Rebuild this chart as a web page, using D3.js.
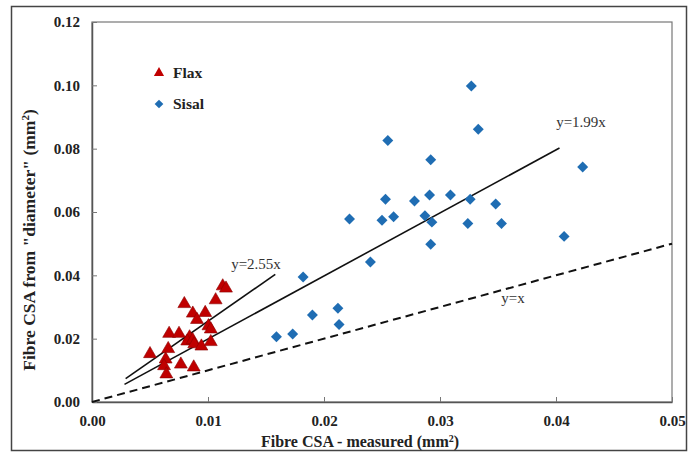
<!DOCTYPE html>
<html><head><meta charset="utf-8">
<script src="https://cdn.jsdelivr.net/npm/d3@7"></script>
<style>body{margin:0;background:#fff}svg{display:block}</style>
</head><body>
<script>
const xTicks = [0, 0.01, 0.02, 0.03, 0.04, 0.05];
const yTicks = [0, 0.02, 0.04, 0.06, 0.08, 0.10, 0.12];
const flaxX = [0.01127,0.01155,0.01066,0.00796,0.00869,0.00976,0.00905,0.01004,0.01024,0.00665,0.00750,0.00841,0.00821,0.00868,0.00881,0.00943,0.01024,0.00500,0.00657,0.00635,0.00766,0.00877,0.00621,0.00641];
const flaxY = [0.0369,0.0362,0.0325,0.0313,0.0283,0.0285,0.0263,0.0243,0.0233,0.0219,0.0219,0.0208,0.0195,0.0199,0.0186,0.0179,0.0193,0.0155,0.0171,0.0138,0.0122,0.0113,0.0117,0.0091];
const sisalX = [0.0327,0.0333,0.0255,0.0292,0.0423,0.0253,0.0278,0.0291,0.0309,0.0326,0.0348,0.0222,0.0250,0.0260,0.0287,0.0293,0.0324,0.0353,0.0407,0.0292,0.0240,0.0182,0.0190,0.0212,0.0213,0.0159,0.0173];
const sisalY = [0.0998,0.0861,0.0826,0.0765,0.0742,0.0640,0.0635,0.0654,0.0654,0.0640,0.0625,0.0578,0.0574,0.0585,0.0588,0.0568,0.0564,0.0564,0.0523,0.0498,0.0442,0.0395,0.0275,0.0296,0.0245,0.0206,0.0215];
const fitNames = ["y=2.55x", "y=1.99x", "y=x"];
const fitSlopes = [2.55, 1.99, 1];
const fitFrom = [0.0029, 0.0028, 0];
const fitTo = [0.0158, 0.0403, 0.05];
const legendNames = ["Flax", "Sisal"];

const W = 696, H = 457;
const M = {l: 92, t: 22, r: 672, b: 402};
const svg = d3.select("body").append("svg").attr("width", W).attr("height", H);
const x = d3.scaleLinear().domain([0, 0.05]).range([M.l, M.r]);
const y = d3.scaleLinear().domain([0, 0.12]).range([M.b, M.t]);
const serif = "'Liberation Serif','DejaVu Serif',serif";

// outer frame
svg.append("rect").attr("x", 11.5).attr("y", 6.5).attr("width", 675).attr("height", 444)
  .attr("fill", "none").attr("stroke", "#444").attr("stroke-width", 1.5);
// plot frame
svg.append("rect").attr("x", M.l).attr("y", M.t).attr("width", M.r - M.l).attr("height", M.b - M.t)
  .attr("fill", "none").attr("stroke", "#777").attr("stroke-width", 1.2);

const xAxis = svg.append("g").attr("transform", `translate(0,${M.b})`)
  .call(d3.axisBottom(x).tickValues(xTicks).tickFormat(d3.format(".2f")).tickSizeInner(-5).tickSizeOuter(0).tickPadding(13));
const yAxis = svg.append("g").attr("transform", `translate(${M.l},0)`)
  .call(d3.axisLeft(y).tickValues(yTicks).tickFormat(d3.format(".2f")).tickSizeInner(-5).tickSizeOuter(0).tickPadding(12));
[xAxis, yAxis].forEach(g => {
  g.select(".domain").attr("stroke", "#555").attr("stroke-width", 1.5);
  g.selectAll(".tick line").attr("stroke", "#777");
  g.selectAll("text").attr("font-family", serif).attr("font-weight", "bold").attr("font-size", 15).attr("fill", "#222");
});

// axis titles
const xt = svg.append("text").attr("x", 360).attr("y", 447).attr("text-anchor", "middle")
  .attr("font-family", serif).attr("font-weight", "bold").attr("font-size", 16).attr("fill", "#222");
xt.append("tspan").text("Fibre CSA - measured (mm");
xt.append("tspan").attr("baseline-shift", "super").attr("font-size", 10).text("2");
xt.append("tspan").text(")");
const yt = svg.append("text").attr("transform", `translate(35,240) rotate(-90)`).attr("text-anchor", "middle")
  .attr("font-family", serif).attr("font-weight", "bold").attr("font-size", 17.5).attr("fill", "#222");
yt.append("tspan").text("Fibre CSA from \"diameter\" (mm");
yt.append("tspan").attr("baseline-shift", "super").attr("font-size", 11).text("2");
yt.append("tspan").text(")");

// fit lines
fitNames.forEach((n, i) => {
  const ln = svg.append("line")
    .attr("x1", x(fitFrom[i])).attr("y1", y(fitFrom[i] * fitSlopes[i]))
    .attr("x2", x(fitTo[i])).attr("y2", y(fitTo[i] * fitSlopes[i]))
    .attr("stroke", "#111").attr("stroke-width", i === 2 ? 2 : 1.6);
  if (i === 2) ln.attr("stroke-dasharray", "8,5");
});

const triangle = d3.symbol().type(d3.symbolTriangle).size(72);
const diamond = d3.symbol().type(d3.symbolSquare).size(60);
const red = "#c00000", blue = "#1f6db3";

svg.append("g").selectAll("path").data(sisalX).join("path")
  .attr("d", diamond).attr("transform", (d, i) => `translate(${x(d)},${y(sisalY[i])}) rotate(45)`)
  .attr("fill", blue);
svg.append("g").selectAll("path").data(flaxX).join("path")
  .attr("d", triangle).attr("transform", (d, i) => `translate(${x(d)},${y(flaxY[i]) + 1})`)
  .attr("fill", red).attr("stroke", "#8b0000").attr("stroke-width", 0.6);

// fit labels
const lblPos = [[256, 269], [581, 127], [513, 303]];
fitNames.forEach((n, i) => {
  svg.append("text").attr("x", lblPos[i][0]).attr("y", lblPos[i][1]).attr("text-anchor", "middle")
    .attr("font-family", serif).attr("font-size", 15).attr("fill", "#333").text(n);
});

// legend
legendNames.forEach((n, i) => {
  const ly = 73 + i * 31;
  svg.append("path").attr("d", i === 0 ? d3.symbol().type(d3.symbolTriangle).size(45) : d3.symbol().type(d3.symbolSquare).size(38))
    .attr("transform", `translate(159,${ly}) rotate(${i === 0 ? 0 : 45})`)
    .attr("fill", i === 0 ? red : blue);
  svg.append("text").attr("x", 173).attr("y", ly + 5).attr("font-family", serif).attr("font-weight", "bold")
    .attr("font-size", 15.5).attr("fill", "#222").text(n);
});
</script>
</body></html>
